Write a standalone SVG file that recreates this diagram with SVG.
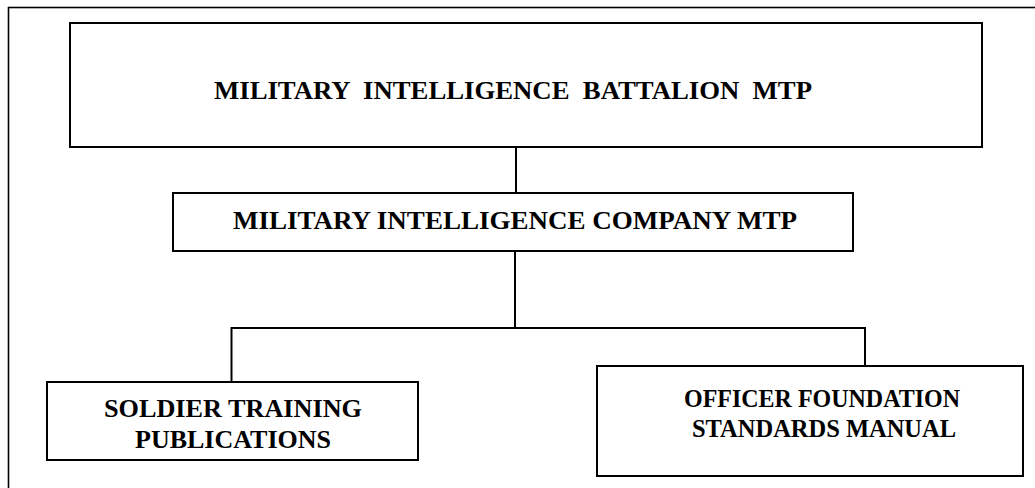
<svg xmlns="http://www.w3.org/2000/svg" width="1035" height="488" viewBox="0 0 1035 488">
<style>
.box{fill:#fff;stroke:#000;stroke-width:2}
.frame{fill:none;stroke:#000;stroke-width:1.6}
.conn line{stroke:#000;stroke-width:2}
.t{font-family:'Liberation Serif','Times New Roman',serif;font-weight:700;font-size:26px;fill:#000;text-anchor:middle}
</style>
<rect width="1035" height="488" fill="#fff"/>
<rect class="frame" x="8.5" y="7.5" width="1040" height="500"/>
<g id="connectors" class="conn">
<line x1="516" y1="147" x2="516" y2="193"/>
<line x1="515" y1="251" x2="515" y2="328"/>
<line x1="231.5" y1="328" x2="865" y2="328"/>
<line x1="231.5" y1="327" x2="231.5" y2="382"/>
<line x1="865" y1="327" x2="865" y2="366"/>
</g>
<g id="battalion">
<rect class="box" x="70" y="23" width="912" height="124"/>
<text class="t" x="513" y="99" xml:space="preserve" textLength="598" lengthAdjust="spacingAndGlyphs">MILITARY  INTELLIGENCE  BATTALION  MTP</text>
</g>
<g id="company">
<rect class="box" x="173" y="193" width="680" height="58"/>
<text class="t" x="515" y="229" textLength="564" lengthAdjust="spacingAndGlyphs">MILITARY INTELLIGENCE COMPANY MTP</text>
</g>
<g id="soldier">
<rect class="box" x="47" y="382" width="371" height="78"/>
<text class="t" x="233" y="417" textLength="258" lengthAdjust="spacingAndGlyphs">SOLDIER TRAINING</text>
<text class="t" x="233" y="448" textLength="196" lengthAdjust="spacingAndGlyphs">PUBLICATIONS</text>
</g>
<g id="officer">
<rect class="box" x="597" y="366" width="426" height="110"/>
<text class="t" x="822" y="407" textLength="276" lengthAdjust="spacingAndGlyphs">OFFICER FOUNDATION</text>
<text class="t" x="824" y="437" textLength="264" lengthAdjust="spacingAndGlyphs">STANDARDS MANUAL</text>
</g>
</svg>
